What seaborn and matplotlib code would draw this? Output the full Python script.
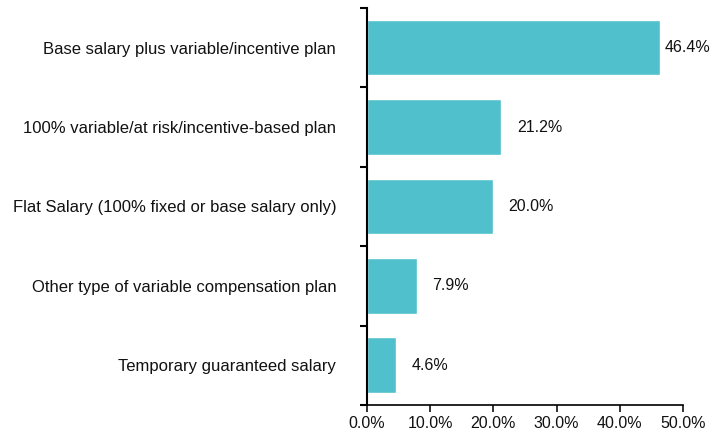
import numpy as np
import pandas as pd
import seaborn as sns
import matplotlib.pyplot as plt
from matplotlib.ticker import FixedLocator, PercentFormatter

categories = ["Base salary plus variable/incentive plan",
              "100% variable/at risk/incentive-based plan",
              "Flat Salary (100% fixed or base salary only)",
              "Other type of variable compensation plan",
              "Temporary guaranteed salary"]
values = [46.4, 21.2, 20.0, 7.9, 4.6]
xticks = [0, 10, 20, 30, 40, 50]

df = pd.DataFrame({"plan": categories, "pct": values})

sns.set_style("white")
plt.rcParams['font.family'] = ['Liberation Sans', 'DejaVu Sans']

fig = plt.figure(figsize=(7.22, 4.33), dpi=100)
ax = fig.add_axes([0.508, 0.0647, 0.438, 0.917])

sns.barplot(data=df, y="plan", x="pct", orient="h", color="#4FC0CC",
            saturation=1, width=0.7, ax=ax)

ax.set_xlim(0, 50)
ax.set_ylim(len(categories) - 0.5, -0.5)
ax.set_xticks(xticks)
ax.xaxis.set_major_formatter(PercentFormatter(decimals=1))
ax.set_xlabel("")
ax.set_ylabel("")

# tick marks between the categories, labels centred on bars
ax.yaxis.set_minor_locator(FixedLocator(np.arange(-0.5, len(categories), 1)))
ax.tick_params(axis="y", which="major", length=0, pad=22, labelsize=12, colors="#111111")
ax.tick_params(axis="y", which="minor", length=5, width=1.5, direction="out", left=True, color="black")
ax.tick_params(axis="x", length=5, width=1.2, direction="out", bottom=True, labelsize=11.5,
               colors="#111111", pad=3)

for side in ["top", "right"]:
    ax.spines[side].set_visible(False)
ax.spines["left"].set_linewidth(1.5)
ax.spines["bottom"].set_linewidth(1.2)
ax.spines["left"].set_color("black")
ax.spines["bottom"].set_color("black")

pads = [3, 12, 11, 11, 11]
for bar, v, p in zip(ax.patches, values, pads):
    ax.annotate(f"{v:.1f}%", (bar.get_width(), bar.get_y() + bar.get_height() / 2),
                xytext=(p, 0), textcoords="offset points", va="center", ha="left",
                fontsize=11.5, color="#111111")

fig.savefig("out.png", dpi=100)
